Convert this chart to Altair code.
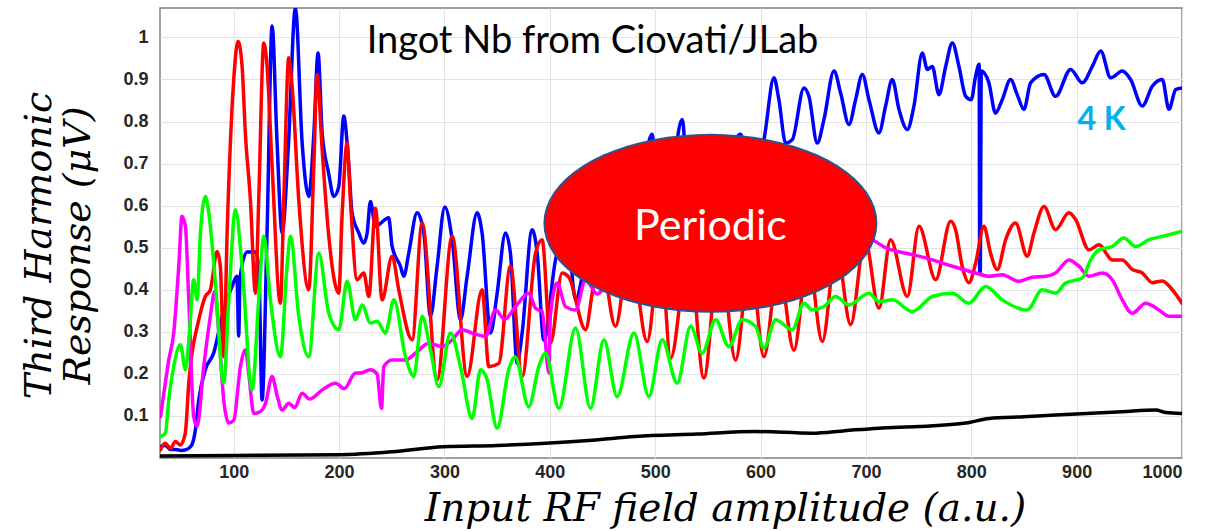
import math
import altair as alt
import pandas as pd

# ---------------- data ----------------
blue = [(30.4,0.027),(35,0.03),(40,0.02),(45,0.02),(50,0.018),(55,0.02),(60,0.03),(63.6,0.067),(66.8,0.138),
        (73,0.21),(81,0.25),(89,0.336),(98.4,0.408),(103,0.432),(104.7,0.29),(106,0.43),(112.7,0.49),(120.6,0.49),
        (123.7,0.455),(126.9,0.138),(131.6,0.535),(136.4,1.027),(141,0.757),(145.9,0.535),(152,0.75),(158.5,1.07),
        (164.9,0.75),(171.2,0.622),(176,0.77),(180,0.963),(183.9,0.773),(190,0.678),(195,0.622),(199.7,0.646),
        (204.4,0.813),(209.2,0.694),(212.3,0.583),(218.7,0.535),(223.4,0.511),(226.6,0.535),(229.7,0.61),(234.5,0.551),
        (247.1,0.571),(250.3,0.503),(258.2,0.456),(261.4,0.432),(266.1,0.487),(274,0.583),(280.4,0.535),(286.7,0.337),
        (293,0.456),(300.3,0.597),(307.3,0.519),(315.2,0.329),(321.5,0.432),(331,0.583),(335.7,0.535),(343.7,0.297),
        (350,0.392),(357.9,0.535),(362.6,0.487),(369,0.225),(373.7,0.297),(383.2,0.543),(388,0.487),(394.3,0.28),
        (405.4,0.471),(416.5,0.535),(424.4,0.376),(432,0.45),(441,0.6),(452,0.46),(465,0.63),(478,0.5),(490,0.7),
        (497,0.77),(503,0.6),(515,0.66),(525.6,0.805),(532,0.62),(545,0.7),(558,0.64),(570,0.72),(581,0.77),(590,0.68),
        (603.2,0.757),(612.7,0.904),(617.4,0.852),(623.8,0.749),(630.1,0.757),(641.2,0.88),(645.9,0.86),(653.8,0.749),
        (660.2,0.805),(669.7,0.92),(676,0.868),(683.9,0.793),(690.2,0.852),(696.6,0.912),(702.9,0.852),(712.4,0.773),
        (718.7,0.837),(725,0.9),(731.4,0.829),(739.3,0.781),(745.6,0.837),(753.5,0.963),(758.3,0.924),(763,0.931),
        (769.3,0.864),(775.7,0.931),(782,0.987),(788.3,0.931),(794.7,0.86),(800,0.852),(804.1,0.908),(807.5,0.936),
        (808,0.44),(808.5,0.44),(809.5,0.92),(816.7,0.892),(823,0.82),(829.4,0.852),(837.3,0.9),(843.6,0.864),
        (850,0.829),(856.3,0.892),(869,0.912),(880,0.86),(894.3,0.924),(905.4,0.892),(914.9,0.931),(922.8,0.968),
        (932.3,0.904),(943.3,0.92),(951.2,0.9),(962.3,0.837),(971.8,0.884),(981.3,0.9),(987.6,0.829),(994,0.876),
        (1000,0.88)]

red = [(30.4,0.019),(35,0.035),(40,0.023),(44.6,0.039),(49.4,0.031),(54,0.059),(57.3,0.178),(60.4,0.249),(66,0.32),
       (73,0.384),(77.8,0.4),(84.2,0.491),(87.3,0.455),(90.5,0.241),(93.7,0.535),(100,0.9),(104.1,0.991),(107.9,0.932),
       (111,0.773),(115.8,0.614),(120.6,0.392),(123.7,0.614),(128.5,0.987),(131.6,0.932),(136.4,0.694),(144.3,0.368),
       (147.5,0.614),(152.2,0.952),(155.4,0.884),(161.7,0.614),(171.2,0.4),(176,0.694),(179.1,0.912),(183.9,0.733),
       (190.2,0.527),(199.7,0.392),(202.8,0.575),(207.6,0.749),(210.7,0.614),(217.1,0.424),(223.4,0.44),(228.2,0.384),
       (234.5,0.594),(240.8,0.376),(250.3,0.48),(256.6,0.4),(269.3,0.281),(278.8,0.559),(293,0.186),(307.3,0.527),
       (321.5,0.194),(335.7,0.4),(342.1,0.217),(351.6,0.225),(362.6,0.456),(373.7,0.194),(386.4,0.487),(392.7,0.519),
       (400.6,0.273),(411.7,0.44),(418,0.43),(433.9,0.305),(440.2,0.392),(447,0.5),(462.3,0.313),(476,0.5),
       (492.4,0.277),(505,0.5),(514.6,0.237),(532,0.5),(546.2,0.19),(561,0.5),(576.3,0.233),(590,0.48),(603.2,0.241),
       (617,0.46),(631.7,0.256),(645,0.48),(658.6,0.277),(672,0.5),(685.5,0.317),(699,0.52),(712.4,0.356),
       (723.4,0.519),(739.3,0.384),(750.4,0.551),(766.2,0.424),(780.4,0.563),(785.1,0.543),(791.4,0.456),
       (797.8,0.417),(804.1,0.463),(812,0.551),(818.3,0.487),(824.7,0.448),(832.6,0.519),(842,0.559),(853.1,0.48),
       (859.5,0.535),(869,0.598),(880,0.543),(892.7,0.583),(899,0.567),(911.7,0.495),(921.2,0.507),(933.8,0.471),
       (943.3,0.471),(952.8,0.448),(962.3,0.44),(971.8,0.417),(981.3,0.421),(990.8,0.4),(1000,0.368)]

green = [(30.4,0.051),(35.1,0.059),(38.3,0.138),(43,0.217),(49.4,0.269),(54.1,0.21),(58,0.3),(62,0.424),(65.2,0.376),
         (68.4,0.535),(73.1,0.622),(76.3,0.583),(82.6,0.416),(90.5,0.178),(95.3,0.376),(101.6,0.59),(107.9,0.456),
         (117.4,0.162),(123.7,0.376),(128.5,0.527),(134.8,0.376),(144.3,0.241),(150.6,0.456),(153.8,0.527),
         (161.7,0.337),(171.2,0.241),(180.7,0.487),(190.2,0.344),(199.7,0.305),(207.6,0.42),(215.5,0.329),
         (221.8,0.364),(229.7,0.321),(236.1,0.325),(244,0.297),(251.9,0.376),(263,0.241),(270.9,0.194),(278.8,0.337),
         (286.7,0.257),(294.6,0.17),(305.7,0.297),(315.2,0.217),(326.3,0.094),(334.2,0.21),(340,0.19),(350,0.071),
         (361,0.21),(367,0.24),(380,0.122),(389.5,0.217),(395.9,0.249),(408.6,0.118),(424.4,0.309),(438.6,0.118),
         (451.3,0.281),(463.9,0.146),(479.8,0.297),(494,0.146),(506.6,0.281),(520.9,0.178),(533.6,0.313),(544.6,0.249),
         (557.3,0.329),(569.9,0.265),(582.6,0.329),(595.3,0.313),(603.2,0.261),(614.3,0.329),(630.1,0.305),
         (641.2,0.368),(649.1,0.352),(660.2,0.36),(671.2,0.384),(683.9,0.364),(702.9,0.392),(712.4,0.372),(725,0.376),
         (744,0.348),(763,0.384),(782,0.392),(797.8,0.368),(813.6,0.408),(829.4,0.376),(853.1,0.352),(867.4,0.4),
         (880,0.392),(889.5,0.416),(905.4,0.428),(913.3,0.471),(921.2,0.495),(933.8,0.503),(944.9,0.523),(956,0.503),
         (968.6,0.519),(981.3,0.527),(1000,0.539)]

magenta = [(30.4,0.098),(34,0.16),(38.3,0.233),(43,0.297),(47.8,0.456),(50.9,0.575),(54.1,0.551),(57.3,0.376),(62,0.098),
           (65.2,0.075),(71.5,0.217),(77.8,0.337),(82,0.396),(85.8,0.297),(90.5,0.138),(95.3,0.083),(100,0.09),
           (106.3,0.217),(111.1,0.257),(114.2,0.202),(119,0.106),(125,0.11),(130.1,0.13),(136.4,0.194),(141,0.15),
           (145.9,0.114),(152.2,0.13),(158,0.12),(164.9,0.154),(172,0.14),(183.9,0.162),(196.5,0.178),(205,0.165),
           (215.5,0.202),(220.2,0.202),(229.7,0.21),(236,0.2),(240.2,0.118),(242.4,0.217),(250.3,0.233),(263,0.233),
           (272.5,0.249),(285.1,0.273),(297.8,0.265),(307.3,0.281),(316.8,0.305),(326.3,0.297),(338.9,0.289),
           (348.4,0.352),(357,0.33),(367.4,0.36),(380,0.392),(386.4,0.356),(392.7,0.348),(399.1,0.202),(400.5,0.34),
           (407,0.416),(414.9,0.36),(424.4,0.352),(433.9,0.424),(445,0.39),(460,0.44),(480,0.45),(500,0.47),(520,0.46),
           (540,0.48),(560,0.49),(580,0.5),(600,0.49),(620,0.51),(640,0.5),(660,0.52),(680,0.51),(695,0.53),
           (706.1,0.519),(718.7,0.5),(737.7,0.487),(750,0.48),(763,0.471),(782,0.456),(804.1,0.44),(816.7,0.432),
           (829.4,0.436),(845.2,0.42),(858,0.43),(870.5,0.432),(880,0.44),(892.7,0.471),(902.2,0.456),(911.7,0.432),
           (924.3,0.44),(933.8,0.424),(943.3,0.376),(952.8,0.344),(965.5,0.368),(978.1,0.352),(987.6,0.337),(1000,0.337)]

black = [(30,0.005),(100,0.006),(200,0.008),(250,0.015),(299,0.027),(350,0.03),(396,0.035),(440,0.042),(481,0.051),
         (540,0.057),(595,0.063),(649,0.059),(680,0.065),(712,0.071),(750,0.075),(795,0.083),(817,0.094),(850,0.098),
         (880,0.102),(943,0.11),(975,0.114),(985,0.108),(1000,0.106)]

x_ticks = [100, 200, 300, 400, 500, 600, 700, 800, 900, 1000]
y_ticks = [0.1, 0.2, 0.3, 0.4, 0.5, 0.6, 0.7, 0.8, 0.9, 1.0]

title_text = "Ingot Nb from Ciovati/JLab"
title_pos = (440.5, 0.962)
label_4k = "4 K"
label_4k_pos = (923.7, 0.781)
ellipse_text = "Periodic"
ellipse_center = (552.4, 0.558)
ellipse_text_pos = (552.4, 0.519)

# ---------------- chart ----------------
xscale = alt.Scale(domain=[30, 1000], nice=False, zero=False)
yscale = alt.Scale(domain=[0, 1.07], nice=False, zero=False)

LABEL_FONT = "Liberation Sans"
TITLE_FONT = "DejaVu Serif"

xaxis = alt.Axis(values=x_ticks, grid=True, ticks=False, domain=False, format="d",
                 labelFont=LABEL_FONT, labelFontWeight="bold", labelFontSize=18, labelColor="#262626",
                 labelPadding=5, title="Input RF field amplitude (a.u.)",
                 titleFont=TITLE_FONT, titleFontStyle="italic", titleFontWeight="normal",
                 titleFontSize=39, titleColor="#000000", titleX=565, titleY=62,
                 titleAlign="center", titleBaseline="alphabetic")
yaxis = alt.Axis(values=y_ticks, grid=True, ticks=False, domain=False,
                 labelExpr="datum.value == 1 ? '1' : format(datum.value, '.1f')",
                 labelFont=LABEL_FONT, labelFontWeight="bold", labelFontSize=18, labelColor="#262626",
                 labelPadding=12, title=["Third Harmonic", "Response (μV)"],
                 titleFont=TITLE_FONT, titleFontStyle="italic", titleFontWeight="normal",
                 titleFontSize=38, titleColor="#000000", titleX=-140, titleY=237,
                 titleAlign="center", titleBaseline="top", titleLineHeight=39, titleAngle=270)


def line_layer(pts, color, width=3.5):
    df = pd.DataFrame({"x": [p[0] for p in pts], "y": [p[1] for p in pts], "i": list(range(len(pts)))})
    return alt.Chart(df).mark_line(color=color, strokeWidth=width, strokeJoin="round", strokeCap="round",
                                   interpolate="monotone", clip=True).encode(
        x=alt.X("x:Q", scale=xscale, axis=xaxis),
        y=alt.Y("y:Q", scale=yscale, axis=yaxis),
        order="i:Q",
    )


layers = [
    line_layer(blue, "#0000FF"),
    line_layer(red, "#FF0000"),
    line_layer(magenta, "#FF00FF"),
    line_layer(green, "#00FF00"),
    line_layer(black, "#000000"),
]

# ellipse shape as a unit path (rx = 1, ry = ratio)
ratio = 88.5 / 166.0
pts = []
for k in range(73):
    t = 2 * math.pi * k / 72
    pts.append("%.4f %.4f" % (math.cos(t), ratio * math.sin(t)))
ellipse_path = "M " + " L ".join(pts) + " Z"

ell_df = pd.DataFrame({"x": [ellipse_center[0]], "y": [ellipse_center[1]]})
layers.append(
    alt.Chart(ell_df).mark_point(shape=ellipse_path, size=332 ** 2, filled=True, fill="#FF0000",
                                 stroke="#2F528F", strokeWidth=2, opacity=1, fillOpacity=1, strokeOpacity=1).encode(
        x=alt.X("x:Q", scale=xscale, axis=xaxis),
        y=alt.Y("y:Q", scale=yscale, axis=yaxis),
    )
)


def text_layer(txt, pos, **kw):
    df = pd.DataFrame({"x": [pos[0]], "y": [pos[1]], "t": [txt]})
    return alt.Chart(df).mark_text(align="center", baseline="alphabetic", **kw).encode(
        x=alt.X("x:Q", scale=xscale, axis=xaxis),
        y=alt.Y("y:Q", scale=yscale, axis=yaxis),
        text="t:N",
    )


layers.append(text_layer(ellipse_text, ellipse_text_pos, font="Lato", fontSize=43, color="#FFFFFF"))
layers.append(text_layer(title_text, title_pos, font="Lato", fontSize=38, color="#000000"))
layers.append(text_layer(label_4k, label_4k_pos, font="Lato", fontSize=32, fontWeight="bold", color="#00B0F0"))

chart = alt.layer(*layers).properties(
    width=1022, height=450,
    padding={"left": 160, "top": 8, "right": 37, "bottom": 73},
    autosize=alt.AutoSizeParams(type="none"),
    background="#FFFFFF",
).configure_view(stroke="#808080", strokeWidth=1.5).configure_axis(gridColor="#E3E3E3", gridWidth=1)

chart.save("out.html", embed_options={"renderer": "svg", "actions": False})
